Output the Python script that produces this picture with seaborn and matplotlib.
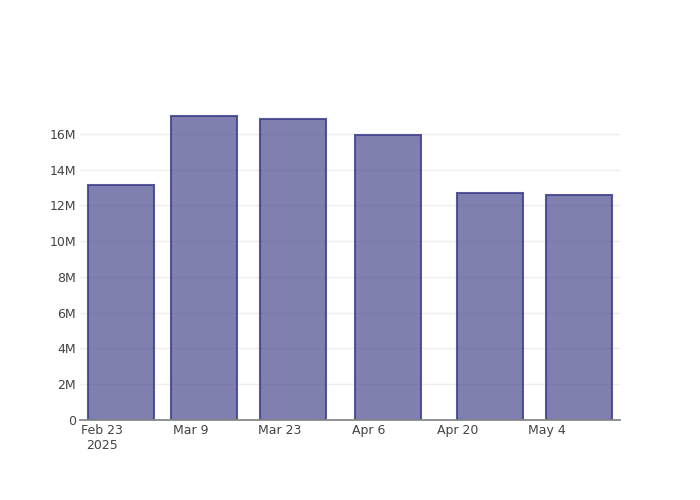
import matplotlib
matplotlib.use("Agg")
import matplotlib.pyplot as plt
import matplotlib.dates as mdates
import numpy as np
import pandas as pd
import seaborn as sns

# Data
dates = ["2025-02-26", "2025-03-11", "2025-03-25", "2025-04-09", "2025-04-25", "2025-05-09"]
values = [13.15e6, 17.0e6, 16.84e6, 15.94e6, 12.7e6, 12.58e6]
x_tick_dates = ["2025-02-23", "2025-03-09", "2025-03-23", "2025-04-06", "2025-04-20", "2025-05-04"]
x_tick_labels = ["Feb 23\n2025", "Mar 9", "Mar 23", "Apr 6", "Apr 20", "May 4"]
y_ticks = [0, 2e6, 4e6, 6e6, 8e6, 10e6, 12e6, 14e6, 16e6]
y_tick_labels = ["0", "2M", "4M", "6M", "8M", "10M", "12M", "14M", "16M"]

df = pd.DataFrame({"date": pd.to_datetime(dates), "value": values})
df["xnum"] = mdates.date2num(df["date"])

sns.set_theme(style="white")
plt.rcParams["font.family"] = ["DejaVu Sans"]

fig = plt.figure(figsize=(7, 5), dpi=100)
ax = fig.add_axes([80 / 700, 80 / 500, 540 / 700, 320 / 500])

sns.barplot(data=df, x="xnum", y="value", native_scale=True, width=0.8,
            color="#4a4a8f", saturation=1, ax=ax, zorder=2)
for p in ax.patches:
    p.set_facecolor((74 / 255, 74 / 255, 143 / 255, 0.7))
    p.set_edgecolor((60 / 255, 60 / 255, 140 / 255, 0.85))
    p.set_linewidth(1.5)

# axes ranges
first = mdates.date2num(pd.Timestamp("2025-02-26")) - 6.5
last = mdates.date2num(pd.Timestamp("2025-05-09")) + 6.5
ax.set_xlim(first, last)
ax.set_ylim(0, 17.9e6)

ax.set_xticks(mdates.date2num(pd.to_datetime(x_tick_dates)))
ax.set_xticklabels(x_tick_labels)
ax.set_yticks(y_ticks)
ax.set_yticklabels(y_tick_labels)

ax.tick_params(axis="both", length=0, labelsize=9, colors="#444444")
ax.tick_params(axis="y", pad=3)
ax.tick_params(axis="x", pad=3)

ax.yaxis.grid(True, color="#eeeeee", linewidth=1, zorder=0)
ax.xaxis.grid(False)
ax.set_axisbelow(True)

for s in ["top", "right", "left"]:
    ax.spines[s].set_visible(False)
ax.spines["bottom"].set_color("#888888")
ax.spines["bottom"].set_linewidth(1.3)
ax.spines["bottom"].set_zorder(5)

ax.set_xlabel("")
ax.set_ylabel("")

fig.savefig("out.png", dpi=100)
